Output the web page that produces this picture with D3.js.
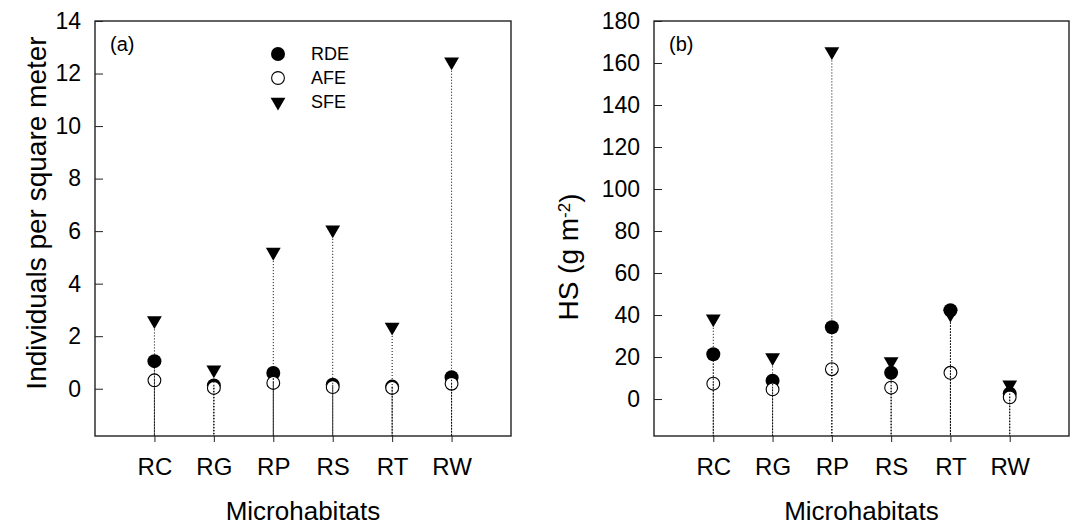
<!DOCTYPE html>
<html>
<head>
<meta charset="utf-8">
<script src="https://cdn.jsdelivr.net/npm/d3@7"></script>
<style>
body { margin: 0; background: #fff; }
text { font-family: "Liberation Sans", Arial, sans-serif; fill: #000; }
</style>
</head>
<body>
<div id="chart"></div>
<script>
// microhabitats
const cats = ["RC", "RG", "RP", "RS", "RT", "RW"];
const series = ["RDE", "AFE", "SFE"];

// (a) individuals per square meter
const densRDE = [1.05, 0.12, 0.6, 0.15, 0.08, 0.44];
const densAFE = [0.32, 0.03, 0.22, 0.06, 0.03, 0.19];
const densSFE = [2.6, 0.72, 5.2, 6.05, 2.35, 12.45];
const densTicks = [0, 2, 4, 6, 8, 10, 12, 14];

// (b) HS (g m-2)
const hsRDE = [21.3, 8.7, 34.2, 12.5, 42.3, 2.6];
const hsAFE = [7.3, 4.6, 14.2, 5.4, 12.5, 0.8];
const hsSFE = [38.2, 19.8, 165.5, 17.9, 40.5, 6.8];
const hsTicks = [0, 20, 40, 60, 80, 100, 120, 140, 160, 180];

const svg = d3.select("#chart").append("svg")
    .attr("width", 1073)
    .attr("height", 527);

const tri = d3.symbol().type(d3.symbolTriangle).size(95);

function panel(p) {
    const x = d3.scaleLinear().domain([0, 7]).range([p.left, p.right]);
    const y = d3.scaleLinear().domain(p.yDomain).range([p.bottom, p.top]);
    const g = svg.append("g");

    // y axis, ticks pointing in
    g.append("g")
        .attr("transform", "translate(" + p.left + ",0)")
        .call(d3.axisLeft(y).tickValues(p.ticks).tickSizeInner(-8).tickSizeOuter(0).tickPadding(14))
        .call(a => a.select(".domain").remove())
        .call(a => a.selectAll("line").attr("stroke", "#222"))
        .selectAll("text")
            .style("font-size", "23px");

    // x axis, ticks pointing out
    g.append("g")
        .attr("transform", "translate(0," + p.bottom + ")")
        .call(d3.axisBottom(x).tickValues(d3.range(1, 7)).tickFormat(i => cats[i - 1])
            .tickSizeInner(6).tickSizeOuter(0).tickPadding(16))
        .call(a => a.select(".domain").remove())
        .call(a => a.selectAll("line").attr("stroke", "#222"))
        .selectAll("text")
            .style("font-size", "24px");

    g.append("rect")
        .attr("x", p.left).attr("y", p.top)
        .attr("width", p.right - p.left).attr("height", p.bottom - p.top)
        .attr("fill", "none").attr("stroke", "#222").attr("stroke-width", 1.4);

    const rows = cats.map((c, i) => ({i: i + 1, RDE: p.rde[i], AFE: p.afe[i], SFE: p.sfe[i]}));

    g.selectAll(".sfe").data(rows).enter().append("path")
        .attr("class", "sfe")
        .attr("d", tri)
        .attr("transform", d => "translate(" + x(d.i) + "," + y(d.SFE) + ") rotate(180)")
        .attr("fill", "#000");

    g.selectAll(".rde").data(rows).enter().append("circle")
        .attr("class", "rde")
        .attr("cx", d => x(d.i)).attr("cy", d => y(d.RDE)).attr("r", 7)
        .attr("fill", "#000");

    g.selectAll(".afe").data(rows).enter().append("circle")
        .attr("class", "afe")
        .attr("cx", d => x(d.i)).attr("cy", d => y(d.AFE)).attr("r", 6.4)
        .attr("fill", "#fff").attr("stroke", "#000").attr("stroke-width", 1.1);

    // drop lines
    series.forEach(s => {
        g.selectAll(".drop" + s).data(rows).enter().append("line")
            .attr("x1", d => x(d.i)).attr("x2", d => x(d.i))
            .attr("y1", d => y(d[s])).attr("y2", p.bottom)
            .attr("stroke", "#000").attr("stroke-width", 1)
            .attr("stroke-dasharray", "1,2");
    });

    g.append("text")
        .attr("x", p.left + 15).attr("y", p.top + 30)
        .style("font-size", "20px")
        .text(p.letter);

    g.append("text")
        .attr("x", (p.left + p.right) / 2).attr("y", 520)
        .attr("text-anchor", "middle")
        .style("font-size", "26px")
        .text("Microhabitats");

    const yl = g.append("text")
        .attr("transform", "translate(" + p.ylabX + "," + p.ylabY + ") rotate(-90)")
        .attr("text-anchor", "middle")
        .style("font-size", "28px");
    p.ylab(yl);

    return {x, y, g};
}

const a = panel({
    left: 95, right: 511, top: 21, bottom: 436,
    yDomain: [-1.8, 14], ticks: densTicks,
    rde: densRDE, afe: densAFE, sfe: densSFE,
    letter: "(a)", ylabX: 46, ylabY: 213,
    ylab: t => t.text("Individuals per square meter")
});

const b = panel({
    left: 654, right: 1069, top: 21, bottom: 436,
    yDomain: [-17.6, 180], ticks: hsTicks,
    rde: hsRDE, afe: hsAFE, sfe: hsSFE,
    letter: "(b)", ylabX: 578, ylabY: 257,
    ylab: t => {
        t.append("tspan").text("HS (g m");
        t.append("tspan").attr("dy", "-0.45em").style("font-size", "17px").text("-2");
        t.append("tspan").attr("dy", "0.3em").text(")");
    }
});

// legend
const legend = a.g.append("g");
series.forEach((s, i) => {
    const ly = 54 + i * 24;
    if (s === "SFE") {
        legend.append("path").attr("d", tri)
            .attr("transform", "translate(278," + ly + ") rotate(180)").attr("fill", "#000");
    } else {
        legend.append("circle").attr("cx", 278).attr("cy", ly).attr("r", s === "RDE" ? 7 : 6.4)
            .attr("fill", s === "RDE" ? "#000" : "#fff")
            .attr("stroke", "#000").attr("stroke-width", s === "RDE" ? 0 : 1.1);
    }
    legend.append("text").attr("x", 311).attr("y", ly + 6)
        .style("font-size", "18px").text(s);
});
</script>
</body>
</html>
